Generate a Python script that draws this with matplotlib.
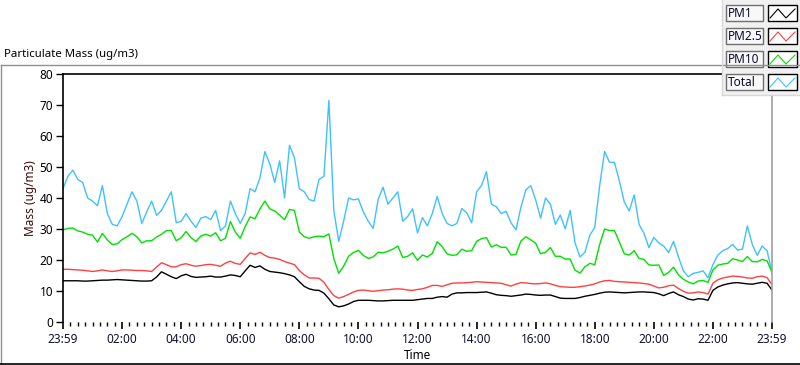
import matplotlib
matplotlib.use('Agg')
import matplotlib.pyplot as plt
from matplotlib.patches import Rectangle
from matplotlib.lines import Line2D
import numpy as np

plt.rcParams['font.family'] = ['Noto Sans', 'DejaVu Sans']

# samples every 10 minutes, from 23:59 to 23:59 next day
pm1 = [13.3, 13.3, 13.3, 13.3, 13.2, 13.2, 13.3, 13.4, 13.5, 13.5,
       13.6, 13.7, 13.6, 13.5, 13.4, 13.3, 13.2, 13.2, 13.3, 14.5,
       16.2, 15.4, 14.6, 14.0, 14.9, 15.4, 14.7, 14.4, 14.5, 14.6,
       14.8, 14.5, 14.5, 14.8, 15.2, 15.0, 14.6, 16.5, 18.3, 17.6,
       18.1, 17.0, 16.3, 16.1, 15.9, 15.6, 15.2, 14.6, 13.0, 11.5,
       10.7, 10.3, 10.2, 9.3, 7.5, 5.5, 4.9, 5.2, 5.8, 6.6,
       7.0, 7.0, 7.0, 6.9, 6.8, 6.8, 6.9, 7.0, 7.0, 7.0,
       7.0, 7.0, 7.2, 7.4, 7.6, 7.6, 8.0, 8.2, 8.0, 9.0,
       9.4, 9.4, 9.5, 9.5, 9.5, 9.6, 9.7, 9.3, 8.8, 8.6,
       8.5, 8.3, 8.5, 8.7, 9.0, 8.9, 8.7, 8.6, 8.7, 8.7,
       8.2, 7.7, 7.6, 7.6, 7.6, 7.9, 8.3, 8.6, 8.9, 9.3,
       9.6, 9.7, 9.6, 9.5, 9.4, 9.5, 9.6, 9.7, 9.7, 9.6,
       9.5, 9.1, 8.5, 9.2, 9.7, 8.8, 8.2, 7.4, 7.1, 7.5,
       7.4, 7.0, 10.2, 11.3, 11.9, 12.3, 12.6, 12.7, 12.5, 12.3,
       12.2, 12.5, 12.8, 12.5, 10.3]

pm25 = [17.0, 17.0, 16.9, 16.8, 16.7, 16.5, 16.3, 16.5, 16.8, 16.5,
        16.3, 16.5, 16.8, 16.8, 16.7, 16.6, 16.6, 16.5, 16.3, 17.7,
        19.1, 18.5, 17.8, 17.8, 18.5, 18.8, 18.3, 18.0, 18.2, 18.5,
        18.6, 18.3, 18.0, 19.0, 19.6, 18.9, 18.6, 20.5, 22.3, 21.8,
        22.5, 21.5, 20.8, 20.6, 20.2, 19.5, 19.0, 18.5, 16.6, 15.2,
        14.2, 14.2, 14.1, 12.8, 10.5, 8.5, 7.7, 8.2, 8.9, 9.7,
        10.2, 10.3, 10.1, 9.9, 10.1, 10.3, 10.4, 10.6, 10.7, 10.6,
        10.3, 10.2, 10.5, 10.7, 11.2, 11.8, 11.8, 11.5, 12.0, 12.5,
        12.6, 12.6, 12.7, 12.8, 13.0, 12.9, 12.8, 12.7, 12.6, 12.5,
        12.0, 11.6, 12.2, 12.7, 12.6, 12.4, 12.3, 12.4, 12.6, 12.3,
        11.8, 11.4, 11.3, 11.2, 11.2, 11.4, 11.6, 11.9, 12.3, 12.9,
        13.3, 13.4, 13.1, 13.0, 12.9, 12.8, 12.7, 12.6, 12.4, 12.2,
        11.6, 11.0, 11.2, 11.7, 11.9, 10.8, 9.9, 9.3, 9.4, 9.7,
        9.5, 9.0, 12.5, 13.6, 14.2, 14.5, 14.8, 14.7, 14.5, 14.2,
        14.1, 14.6, 14.8, 14.3, 12.0]

pm10 = [29.7, 30.2, 30.3, 29.4, 29.0, 28.3, 28.0, 25.8, 28.6, 26.5,
        25.0, 25.2, 26.6, 27.5, 28.6, 27.5, 25.5, 26.2, 26.2, 27.4,
        28.3, 29.5, 29.5, 26.2, 27.2, 29.2, 27.2, 26.0, 27.7, 28.3,
        27.7, 28.8, 26.2, 27.0, 32.4, 29.0, 27.0, 30.8, 33.9, 33.3,
        36.5, 39.0, 36.5, 35.8, 34.5, 33.0, 36.3, 36.0, 29.0, 27.5,
        27.0, 27.5, 27.7, 27.5, 28.4, 20.5, 15.7, 18.0, 21.2, 22.4,
        23.1, 21.5, 20.5, 21.0, 22.5, 22.3, 22.8, 23.5, 24.5, 20.8,
        21.2, 22.3, 19.9, 21.6, 21.0, 22.1, 25.9, 24.3, 22.0, 21.5,
        21.7, 23.5, 22.8, 23.0, 26.0, 26.9, 27.2, 24.2, 24.9, 24.1,
        24.1, 21.6, 21.8, 26.1, 27.5, 26.5, 25.4, 22.0, 22.5, 24.0,
        21.2, 21.2, 20.3, 20.3, 16.7, 15.8, 17.8, 18.9, 18.5, 25.0,
        30.0, 29.5, 29.5, 25.8, 22.0, 21.6, 23.0, 20.5, 20.2, 18.4,
        18.3, 18.4, 15.0, 16.0, 17.7, 15.2, 13.8, 12.9, 12.3, 13.2,
        13.4, 12.8, 16.8, 18.3, 18.7, 18.9, 20.4, 20.0, 19.5, 21.1,
        19.5, 19.4, 20.2, 19.7, 16.0]

total = [43, 47, 49, 46, 45, 40, 39, 37.5, 44, 35,
         31.5, 31, 34, 38, 42, 39, 31.8, 35.5, 39, 34.4,
         36, 39, 42, 32, 32.5, 35, 32.5, 30.5, 33.5, 34,
         33, 36, 29.5, 31, 39, 35, 31.8, 35, 43, 42,
         46.5, 55, 51, 45, 52, 40, 57, 53, 43, 42,
         39.5, 39, 46, 47, 71.5, 36, 26, 32.5, 40, 39.4,
         39.7, 35.5, 32.5, 30.2, 39.5, 43.5, 38, 40, 42, 32.5,
         34, 36.5, 28.7, 33.7, 31, 35, 40.5, 35, 31.8, 31,
         31.8, 36.6, 35.2, 32, 42, 44, 48.5, 38, 37.2, 35,
         35.7, 32, 29.7, 37, 42.6, 44, 39.4, 33.5, 40, 38,
         31.5, 34.5, 30, 36, 25.5, 21, 22.5, 28, 30.5, 44,
         55, 51.5, 51.5, 45.5, 38.7, 35.8, 41, 31.5, 28.6, 24,
         27.3, 25.5, 24.5, 22.4, 26, 21, 16.5, 14.6, 15.7, 16,
         16.5, 14.3, 18.5, 21.6, 23, 23.7, 25, 23.2, 23.5, 31,
         25, 21.5, 24.5, 23, 16]

series_names = ['PM1', 'PM2.5', 'PM10', 'Total']
series_colors = ['#000000', '#ff4040', '#00e000', '#40c0ff']
tick_labels = ['23:59', '02:00', '04:00', '06:00', '08:00', '10:00', '12:00',
               '14:00', '16:00', '18:00', '20:00', '22:00', '23:59']

hours = np.arange(len(total)) / 6.0

W, H = 800, 365
fig = plt.figure(figsize=(W / 100, H / 100), dpi=100)
fig.patch.set_facecolor('white')

# main plot area (pixel box 63..772, 74..322)
ax = fig.add_axes([63 / W, (H - 322) / H, (772 - 63) / W, (322 - 74) / H])
for vals, col in zip([total, pm10, pm25, pm1], series_colors[::-1]):
    ax.plot(hours, vals, color=col, lw=1.0)

ax.set_xlim(0, 24)
ax.set_ylim(0, 80)
ax.set_yticks(np.arange(0, 81, 10))
ax.set_xticks(np.arange(0, 25, 2))
ax.set_xticklabels(tick_labels)
ax.set_xticks(np.arange(0, 24.01, 0.25), minor=True)
ax.tick_params(axis='y', length=5, width=1, labelsize=8.5, pad=2)
ax.tick_params(axis='x', which='major', length=5, width=1.2, labelsize=8.5, pad=3,
               labelcolor='#101030')
ax.tick_params(axis='x', which='minor', length=3, width=1)
ax.spines['left'].set_color('black')
ax.spines['top'].set_color('black')
ax.spines['right'].set_color('#a0a0a0')
ax.spines['bottom'].set_visible(False)
for s in ax.spines.values():
    s.set_linewidth(1.2)
ax.set_ylabel('Mass (ug/m3)', fontsize=8.5, color='#3a0c0c', labelpad=2)
ax.set_xlabel('Time', fontsize=8.5, labelpad=2)

# overlay in pixel coordinates for frame, title and legend
ov = fig.add_axes([0, 0, 1, 1], zorder=5)
ov.set_xlim(0, W)
ov.set_ylim(H, 0)
ov.axis('off')
ov.patch.set_alpha(0)

ov.add_line(Line2D([0.5, 800], [65, 65], color='#909090', lw=1))
ov.add_line(Line2D([0.5, 0.5], [65, 364], color='#909090', lw=1))
ov.add_line(Line2D([0, 800], [364, 364], color='black', lw=1.2))
ov.text(4, 55, 'Particulate Mass (ug/m3)', fontsize=8.2, va='center', ha='left')

# legend panel
ov.add_patch(Rectangle((722, 0), 78, 95, facecolor='#f0f0f0', edgecolor='none'))
ov.add_line(Line2D([722, 722], [0, 95], color='#d8d8d8', lw=1))
ov.add_line(Line2D([722, 800], [95, 95], color='#d8d8d8', lw=1))
for i, (name, col) in enumerate(zip(series_names, series_colors)):
    y0 = 5 + i * 23
    ov.add_patch(Rectangle((726, y0), 37, 16, facecolor='#f8f8f8', edgecolor='#707070', lw=1))
    ov.text(728, y0 + 8.5, name, fontsize=8.5, va='center', ha='left', color='#0a0a30')
    ov.add_patch(Rectangle((768, y0), 29, 16, facecolor='white', edgecolor='black', lw=1))
    zx = [770, 778, 786, 795]
    zy = [y0 + 13, y0 + 4, y0 + 13, y0 + 4]
    ov.add_line(Line2D(zx, zy, color=col, lw=0.8))

fig.savefig('out.png', dpi=100)
